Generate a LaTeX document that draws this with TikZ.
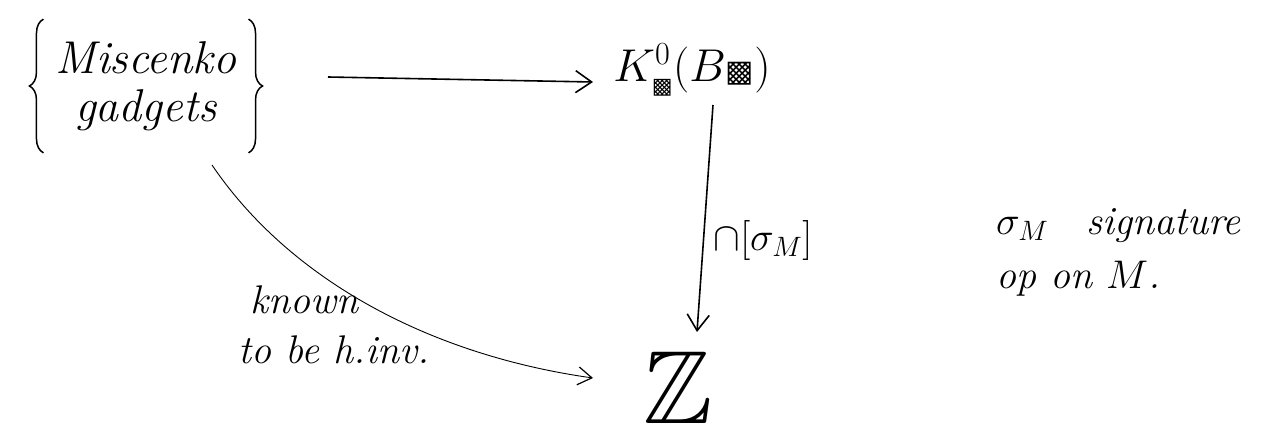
\RequirePackage{fix-cm}
\documentclass[tikz,border=0pt]{standalone}
\usepackage{amssymb}
\usepackage{fontspec}
\newfontfamily\dejavu{DejaVu Sans}
\usetikzlibrary{arrows.meta,decorations.pathreplacing}
\newcommand{\hatchbox}[1]{\mbox{\fontsize{#1}{#1}\dejavu ▩}}
\begin{document}
\begin{tikzpicture}[x=1pt,y=-1pt,
  big/.style={font=\fontsize{46}{52}\selectfont\itshape, align=center, inner xsep=12pt, inner ysep=22pt},
  lbl/.style={font=\fontsize{40}{54}\selectfont\itshape, inner sep=1pt},
  curly/.style={decorate, decoration={brace, amplitude=14pt}, line width=1.5pt},
  arr/.style={-{Straight Barb[length=16pt,width=22pt,line width=1.6pt]}, line width=1.6pt},
  thinarr/.style={-{Straight Barb[length=14pt,width=18pt,line width=1.2pt]}, line width=0.9pt}]
\useasboundingbox (0,0) rectangle (1264,439);
\node[big] (A) at (146,86) {Miscenko\\[-4pt] gadgets};
\draw[curly] (A.south west) -- (A.north west);
\draw[curly] (A.north east) -- (A.south east);
\node[font=\fontsize{46}{52}\selectfont, inner sep=2pt] (K) at (692,70) {$K^{0}_{\hatchbox{22}}(B\hatchbox{30})$};
\node[font=\fontsize{104}{104}\selectfont, inner sep=0pt] (Z) at (678,388) {$\mathbb{Z}$};
\draw[arr] ([xshift=182pt,yshift=9pt]A.center) -- ([xshift=-99pt,yshift=-12pt]K.center);
\draw[arr] ([xshift=21pt,yshift=-35pt]K.center) -- ([xshift=19pt,yshift=56pt]Z.center);
\node[font=\fontsize{40}{48}\selectfont, inner sep=1pt] (L) at (763,240) {$\cap[\sigma_M]$};
\draw[thinarr] ([xshift=66pt,yshift=-79pt]A.center) .. controls (290,280) and (430,355) .. ([xshift=-85pt,yshift=10pt]Z.center);
\node[lbl] (kn) at (304,300) {known};
\node[lbl] (tb) at (334,350) {to be h.inv.};
\node[lbl, anchor=west, align=left] (N) at (995,252) {$\sigma_M$\hspace{38pt}signature\\ op on $M$.};
\end{tikzpicture}
\end{document}
